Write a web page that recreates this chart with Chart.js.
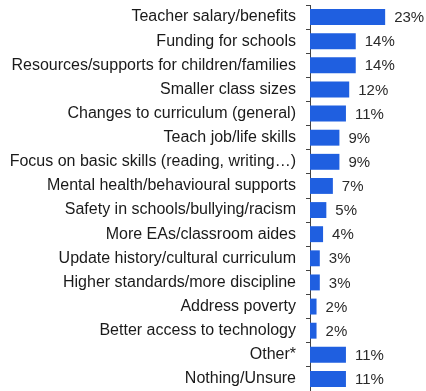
<!DOCTYPE html>
<html>
<head>
<meta charset="utf-8">
<script src="https://cdn.jsdelivr.net/npm/chart.js@4/dist/chart.umd.min.js"></script>
<style>
    html, body { margin: 0; padding: 0; background: #fff; }
    .c-chart-wrap { width: 426px; height: 391px; position: relative; }
</style>
</head>
<body>
<div class="c-chart-wrap"><canvas id="priorities-chart" width="426" height="391"></canvas></div>
<script>
const categories = [
    'Teacher salary/benefits',
    'Funding for schools',
    'Resources/supports for children/families',
    'Smaller class sizes',
    'Changes to curriculum (general)',
    'Teach job/life skills',
    'Focus on basic skills (reading, writing\u2026)',
    'Mental health/behavioural supports',
    'Safety in schools/bullying/racism',
    'More EAs/classroom aides',
    'Update history/cultural curriculum',
    'Higher standards/more discipline',
    'Address poverty',
    'Better access to technology',
    'Other*',
    'Nothing/Unsure'
];
const percentValues = [23, 14, 14, 12, 11, 9, 9, 7, 5, 4, 3, 3, 2, 2, 11, 11];

const barColor = '#1f5fe0';
const textColor = '#1a1a1a';
const fontFamily = '"Liberation Sans", Arial, sans-serif';

// writes "NN%" just past the end of each bar
const valueLabels = {
    id: 'valueLabels',
    afterDatasetsDraw(chart) {
        const ctx = chart.ctx;
        const meta = chart.getDatasetMeta(0);
        ctx.save();
        ctx.font = '15px ' + fontFamily;
        ctx.fillStyle = '#2a2a2a';
        ctx.textAlign = 'left';
        ctx.textBaseline = 'middle';
        meta.data.forEach((bar, i) => {
            ctx.fillText(percentValues[i] + '%', bar.x + 9, bar.y + 1);
        });
        ctx.restore();
    }
};

new Chart(document.getElementById('priorities-chart'), {
    type: 'bar',
    data: {
        labels: categories,
        datasets: [{
            data: percentValues,
            backgroundColor: barColor,
            borderWidth: 0,
            barPercentage: 1.0,
            categoryPercentage: 0.66
        }]
    },
    options: {
        indexAxis: 'y',
        animation: false,
        responsive: false,
        maintainAspectRatio: false,
        layout: {
            padding: { left: 0, right: 0, top: 5, bottom: 0 }
        },
        plugins: {
            legend: { display: false },
            tooltip: { enabled: false }
        },
        scales: {
            x: {
                display: false,
                min: 0,
                max: 35.5
            },
            y: {
                afterFit: (scale) => {
                    // fixed label column; no extra room above/below the first and last label
                    scale.width = 310;
                    scale.paddingTop = 0;
                    scale.paddingBottom = 0;
                },
                grid: {
                    display: true,
                    drawOnChartArea: false,
                    drawTicks: true,
                    tickLength: 4,
                    color: '#444'
                },
                border: {
                    display: true,
                    color: '#444',
                    width: 1
                },
                ticks: {
                    color: textColor,
                    padding: 10,
                    font: { family: fontFamily, size: 16 }
                }
            }
        }
    },
    plugins: [valueLabels]
});
</script>
</body>
</html>
